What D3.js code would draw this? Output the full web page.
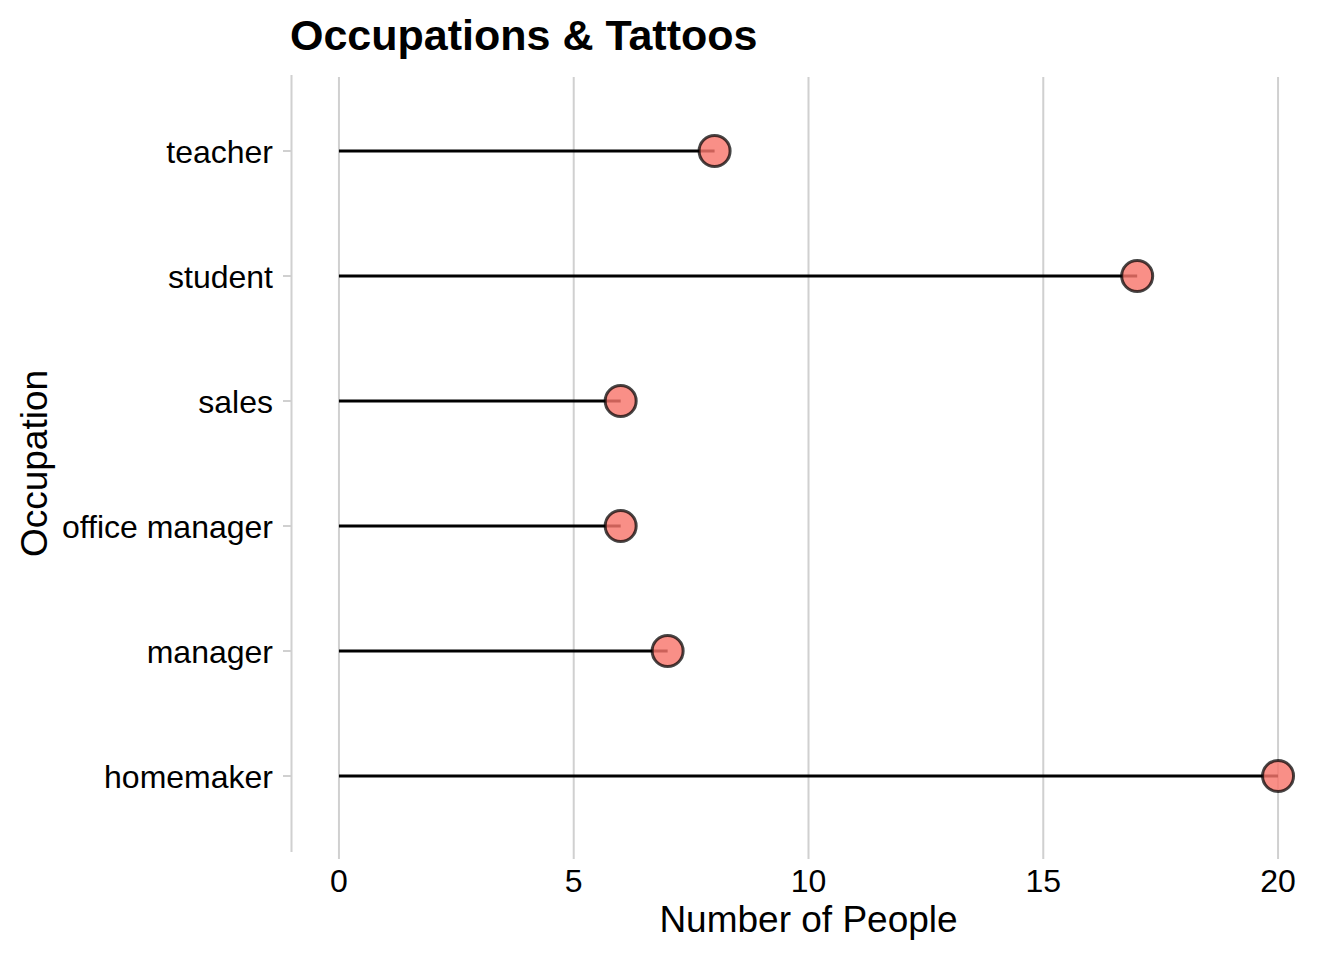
<!DOCTYPE html>
<html>
<head>
<meta charset="utf-8">
<script src="https://cdn.jsdelivr.net/npm/d3@7"></script>
<style>
  body { margin: 0; background: #fff; }
  svg { font-family: "Liberation Sans", Arial, sans-serif; }
</style>
</head>
<body>
<svg id="chart" width="1344" height="960"></svg>
<script>
// occupations, bottom to top as in the plot
const occupations = ['homemaker', 'manager', 'office manager', 'sales', 'student', 'teacher'];
const people = [20, 7, 6, 6, 17, 8];
const xTicks = [0, 5, 10, 15, 20];

const data = occupations.map((d, i) => ({ occupation: d, count: people[i] }));

const svg = d3.select('#chart');
const panel = { left: 292, right: 1325, top: 76, bottom: 851 };
const gridColor = '#d0d0d0';

// ggplot style expansion: 5% on continuous, 0.6 on discrete
const x = d3.scaleLinear().domain([-1, 21]).range([panel.left, panel.right]);
const yPos = d3.scaleLinear().domain([0.4, 6.6]).range([panel.bottom, panel.top]);
const y = d => yPos(occupations.indexOf(d) + 1);

// vertical grid + x ticks
svg.append('g')
    .selectAll('line')
    .data(xTicks)
    .enter()
    .append('line')
    .attr('x1', d => x(d))
    .attr('x2', d => x(d))
    .attr('y1', panel.top + 1)
    .attr('y2', panel.bottom + 8)
    .attr('stroke', gridColor)
    .attr('stroke-width', 2);

svg.append('g')
    .selectAll('text')
    .data(xTicks)
    .enter()
    .append('text')
    .attr('x', d => x(d))
    .attr('y', 892)
    .attr('text-anchor', 'middle')
    .attr('font-size', 32)
    .attr('fill', '#000')
    .text(d => d);

// y axis line + ticks
svg.append('line')
    .attr('x1', panel.left - 0.5)
    .attr('x2', panel.left - 0.5)
    .attr('y1', panel.top - 1)
    .attr('y2', panel.bottom + 1)
    .attr('stroke', gridColor)
    .attr('stroke-width', 2);

const yTicks = svg.append('g')
    .selectAll('g')
    .data(occupations)
    .enter()
    .append('g')
    .attr('transform', d => `translate(0,${y(d)})`);

yTicks.append('line')
    .attr('x1', panel.left - 9)
    .attr('x2', panel.left - 1)
    .attr('stroke', gridColor)
    .attr('stroke-width', 2);

yTicks.append('text')
    .attr('x', panel.left - 19)
    .attr('dy', '0.36em')
    .attr('text-anchor', 'end')
    .attr('font-size', 32)
    .attr('fill', '#000')
    .text(d => d);

// lollipops
const pops = svg.append('g')
    .selectAll('g')
    .data(data)
    .enter()
    .append('g');

pops.append('line')
    .attr('x1', x(0))
    .attr('x2', d => x(d.count))
    .attr('y1', d => y(d.occupation))
    .attr('y2', d => y(d.occupation))
    .attr('stroke', '#000')
    .attr('stroke-width', 3);

pops.append('circle')
    .attr('cx', d => x(d.count))
    .attr('cy', d => y(d.occupation))
    .attr('r', 15.5)
    .attr('fill', '#F8766D')
    .attr('fill-opacity', 0.82)
    .attr('stroke', '#000')
    .attr('stroke-opacity', 0.72)
    .attr('stroke-width', 3);

// titles
svg.append('text')
    .attr('x', 290)
    .attr('y', 50)
    .attr('font-size', 43)
    .attr('font-weight', 'bold')
    .attr('fill', '#000')
    .text('Occupations & Tattoos');

svg.append('text')
    .attr('x', (panel.left + panel.right) / 2)
    .attr('y', 932)
    .attr('text-anchor', 'middle')
    .attr('font-size', 37)
    .attr('fill', '#000')
    .text('Number of People');

svg.append('text')
    .attr('transform', `translate(47,${(panel.top + panel.bottom) / 2}) rotate(-90)`)
    .attr('text-anchor', 'middle')
    .attr('font-size', 37)
    .attr('fill', '#000')
    .text('Occupation');
</script>
</body>
</html>
